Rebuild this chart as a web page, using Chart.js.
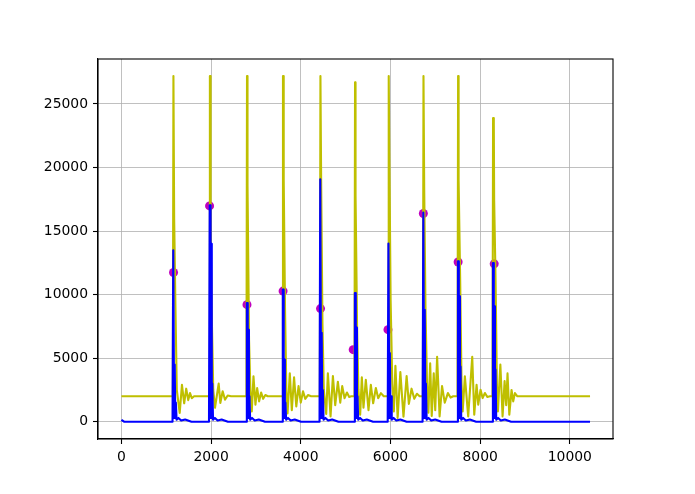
<!DOCTYPE html>
<html>
<head>
<meta charset="utf-8">
<script src="https://cdn.jsdelivr.net/npm/chart.js@4.4.1/dist/chart.umd.min.js"></script>
<style>
  body { margin: 0; background: #fff; }
</style>
</head>
<body>
<canvas id="plot" width="695" height="494"></canvas>
<script>
// tick labels
const xTicks = [0, 2000, 4000, 6000, 8000, 10000];
const yTicks = [0, 5000, 10000, 15000, 20000, 25000];

// yellow signal [x, y]
const yellowLine = [
  [0, 2000],
  // beat 1
  [1147, 2000], [1160, 27200], [1166, 27200], [1176, 16000], [1205, 9000], [1235, 2500], [1300, 700], [1350, 2900], [1400, 1450],
  [1445, 2600], [1490, 1700], [1530, 2250], [1570, 1850], [1620, 2000],
  // beat 2
  [1960, 2000], [1973, 27200], [1979, 27200], [1989, 15600], [2018, 7800], [2048, 2500], [2087, 1100], [2169, 3000], [2206, 1470],
  [2258, 2400], [2310, 1730], [2370, 2060], [2445, 2000],
  // beat 3
  [2788, 2000], [2801, 27200], [2807, 27200], [2817, 18600], [2846, 6450], [2876, 2500], [2907, 800], [2945, 3570], [2989, 1340],
  [3027, 2650], [3071, 1600], [3116, 2300], [3161, 1800], [3210, 2100], [3263, 2000],
  // beat 4
  [3590, 2000], [3603, 27200], [3609, 27200], [3619, 19100], [3648, 9000], [3678, 2500], [3705, 650], [3755, 3800], [3800, 900],
  [3850, 3500], [3900, 1200], [3950, 2800], [4000, 1500], [4050, 2400], [4100, 1800], [4160, 2100], [4230, 2000],
  // beat 5
  [4425, 2000], [4438, 27200], [4444, 27200], [4454, 19000], [4483, 7770], [4513, 2500], [4567, 620], [4604, 3800], [4664, 420],
  [4716, 3600], [4768, 1300], [4827, 3150], [4880, 1500], [4924, 2800], [4976, 1850], [5029, 2300], [5080, 1950],
  [5125, 2000],
  // beat 6
  [5197, 2000], [5210, 26700], [5216, 26700], [5226, 17800], [5255, 7500], [5285, 2500], [5324, 550], [5361, 3500], [5398, 1100],
  [5450, 3300], [5510, 900], [5562, 2900], [5614, 1450], [5674, 2650], [5726, 1850], [5786, 2250], [5850, 2000],
  // beat 7
  [5945, 2000], [5958, 27200], [5964, 27200], [5974, 21200], [6003, 9600], [6040, 3000], [6075, 800], [6110, 4400], [6160, 300],
  [6220, 3900], [6290, 400], [6360, 3600], [6410, 1400], [6470, 2600], [6530, 1800], [6590, 2200], [6650, 2000],
  // beat 8
  [6723, 2000], [6736, 27200], [6742, 27200], [6752, 18300], [6781, 8800], [6815, 3000], [6845, 700], [6885, 4600], [6920, 450],
  [6965, 3800], [6998, 900], [7040, 5100], [7095, 420], [7150, 2800], [7210, 1500], [7280, 2250], [7340, 1900],
  [7400, 2000],
  // beat 9
  [7495, 2000], [7508, 27200], [7514, 27200], [7524, 19000], [7553, 11400], [7585, 3000], [7610, 800], [7659, 3570], [7733, 420],
  [7823, 5100], [7868, 550], [7920, 2900], [7957, 1340], [8009, 2520], [8054, 1860], [8106, 2260], [8160, 1950],
  [8218, 2000],
  // beat 10
  [8275, 2000], [8288, 23900], [8304, 23450], [8312, 17400], [8343, 11180], [8373, 3000], [8395, 800], [8450, 4500],
  [8500, 420], [8545, 3200], [8580, 1300], [8610, 3800], [8650, 550], [8700, 2500], [8737, 1600], [8775, 2250],
  [8830, 2000],
  [10450, 2000]
];

// blue signal [x, y]
const blueLine = [
  [0, 150], [60, 0],
  [1140, 0], [1156, 13490], [1167, 13490], [1176, 300], [1188, 4500], [1202, 300], [1214, 1500], [1230, 150], [1272, 300], [1332, 100], [1422, 180], [1562, 0],
  [1953, 0], [1969, 17030], [1980, 17030], [1989, 300], [2001, 14000], [2015, 300], [2027, 3000], [2043, 150], [2085, 300], [2145, 100], [2235, 180], [2375, 0],
  [2781, 0], [2797, 9340], [2808, 9340], [2817, 300], [2829, 7240], [2843, 300], [2855, 2000], [2871, 150], [2913, 300], [2973, 100], [3063, 180], [3203, 0],
  [3583, 0], [3599, 10390], [3610, 10390], [3619, 300], [3631, 4900], [3645, 300], [3657, 1500], [3673, 150], [3715, 300], [3775, 100], [3865, 180], [4005, 0],
  [4418, 0], [4434, 19080], [4445, 19080], [4454, 300], [4466, 7000], [4480, 300], [4492, 2500], [4508, 150], [4550, 300], [4610, 100], [4700, 180], [4840, 0],
  [5190, 0], [5206, 10130], [5217, 10130], [5226, 300], [5238, 7400], [5252, 300], [5264, 2000], [5280, 150], [5322, 300], [5382, 100], [5472, 180], [5612, 0],
  [5938, 0], [5954, 14020], [5965, 14020], [5974, 300], [5986, 5400], [6000, 300], [6012, 2000], [6028, 150], [6070, 300], [6130, 100], [6220, 180], [6360, 0],
  [6716, 0], [6732, 16460], [6743, 16460], [6752, 300], [6764, 8800], [6778, 300], [6790, 3000], [6806, 150], [6848, 300], [6908, 100], [6998, 180], [7138, 0],
  [7488, 0], [7504, 12630], [7515, 12630], [7524, 300], [7536, 9870], [7550, 300], [7562, 4350], [7578, 150], [7620, 300], [7680, 100], [7770, 180], [7910, 0],
  [8268, 0], [8284, 12490], [8295, 12490], [8304, 300], [8316, 9080], [8330, 300], [8342, 4100], [8358, 150], [8400, 300], [8460, 100], [8550, 180], [8690, 0],
  [10450, 0]
];

// magenta peak markers
const peakX = [1162, 1966, 2800, 3605, 4440, 5169, 5944, 6733, 7508, 8313];
const peakY = [11740, 16980, 9213, 10280, 8900, 5669, 7244, 16380, 12570, 12420];

const toPts = arr => arr.map(p => ({ x: p[0], y: p[1] }));

// top/right box like matplotlib spines
const frame = {
  id: 'frame',
  afterDatasetsDraw(chart) {
    const { ctx, chartArea: a } = chart;
    ctx.save();
    ctx.strokeStyle = '#000';
    ctx.lineWidth = 1.1;
    ctx.strokeRect(a.left, a.top, a.right - a.left, a.bottom - a.top);
    ctx.restore();
  }
};

const tickFont = { family: 'DejaVu Sans', size: 13.9 };

new Chart(document.getElementById('plot'), {
  type: 'scatter',
  data: {
    datasets: [
      {
        label: 'peaks',
        data: peakX.map((x, i) => ({ x: x, y: peakY[i] })),
        backgroundColor: '#bf00bf',
        borderColor: '#bf00bf',
        pointRadius: 4.5,
        pointBorderWidth: 0,
        order: 2
      },
      {
        label: 'yellow',
        data: toPts(yellowLine),
        showLine: true,
        borderColor: '#bfbf00',
        borderWidth: 2.1,
        borderJoinStyle: 'round',
        pointRadius: 0,
        order: 1
      },
      {
        label: 'blue',
        data: toPts(blueLine),
        showLine: true,
        borderColor: '#0000ff',
        borderWidth: 2.1,
        borderJoinStyle: 'round',
        pointRadius: 0,
        order: 0
      }
    ]
  },
  options: {
    responsive: false,
    animation: false,
    devicePixelRatio: 1,
    layout: { padding: { top: 59, right: 82, left: 0, bottom: 0 } },
    plugins: { legend: { display: false }, tooltip: { enabled: false } },
    scales: {
      x: {
        type: 'linear',
        min: -522,
        max: 10962,
        afterBuildTicks: s => { s.ticks = xTicks.map(v => ({ value: v })); },
        afterFit: s => { s.height = 55; },
        grid: { color: '#b0b0b0', lineWidth: 0.8, tickColor: '#000', tickLength: 5, tickWidth: 1.1 },
        border: { color: '#000', width: 1.1 },
        ticks: { color: '#000', font: tickFont, padding: 5, maxRotation: 0, callback: v => String(v) }
      },
      y: {
        type: 'linear',
        min: -1360,
        max: 28540,
        afterBuildTicks: s => { s.ticks = yTicks.map(v => ({ value: v })); },
        afterFit: s => { s.width = 98; },
        grid: { color: '#b0b0b0', lineWidth: 0.8, tickColor: '#000', tickLength: 5, tickWidth: 1.1 },
        border: { color: '#000', width: 1.1 },
        ticks: { color: '#000', font: tickFont, padding: 5, callback: v => String(v) }
      }
    }
  },
  plugins: [frame]
});
</script>
</body>
</html>
